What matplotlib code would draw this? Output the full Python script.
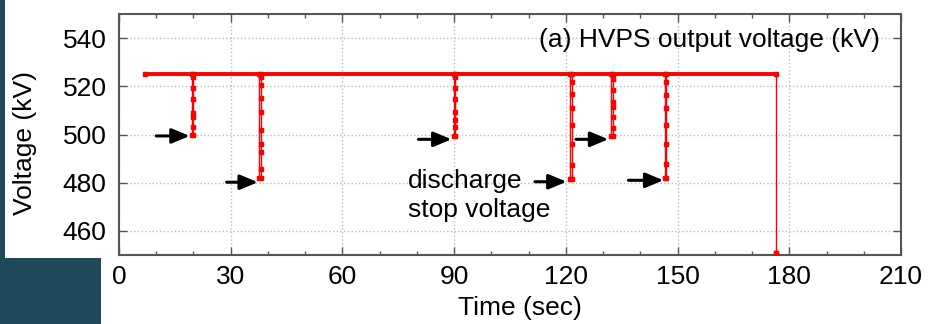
import matplotlib
matplotlib.use("Agg")
import matplotlib.pyplot as plt
from matplotlib.patches import Rectangle
from matplotlib.ticker import MultipleLocator

plt.rcParams['font.family'] = ['Liberation Sans', 'DejaVu Sans']

# charging level and the span of the run (sec, kV)
t_start = 7.0
t_end = 176.5
v_level = 525.0
v_end = 451.0

# discharge events: time of each dip and sampled voltages (bottom -> top)
dip_times = [19.6, 37.7, 90.0, 121.2, 132.2, 146.5]
dip_volts = [
    [499.8, 503.2, 507.2, 508.8, 514.8, 519.3, 523.8],
    [481.8, 485.6, 492.9, 496.1, 501.9, 509.5, 515.3, 520.6, 523.8],
    [499.5, 503.0, 506.0, 509.5, 514.6, 519.5, 523.8],
    [481.4, 487.3, 496.0, 503.9, 511.1, 516.7, 521.7],
    [499.5, 502.6, 507.4, 511.6, 513.6, 518.5, 523.1],
    [481.8, 487.6, 496.0, 503.9, 511.1, 516.4, 521.7],
]

# arrows marking the discharge stop voltage
arrow_tail = [10.0, 28.9, 80.4, 111.7, 122.7, 136.8]
arrow_head = [19.0, 37.3, 89.3, 120.2, 131.4, 146.2]
arrow_v = [499.4, 480.2, 498.0, 480.4, 498.0, 481.0]

FS = 19

fig = plt.figure(figsize=(9.32, 3.24), dpi=100, facecolor='#1d4a5a')
# white slide area (L-shaped)
fig.patches.append(Rectangle((5 / 932, (324 - 258) / 324), 1, 1, transform=fig.transFigure,
                             facecolor='white', edgecolor='none', zorder=-5))
fig.patches.append(Rectangle((101 / 932, 0), 1, 1, transform=fig.transFigure,
                             facecolor='white', edgecolor='none', zorder=-5))

ax = fig.add_axes([119 / 932, (324 - 255) / 324, 782 / 932, 241 / 324])
ax.set_zorder(2)
ax.set_facecolor('white')

# build the trace
tt = [t_start]
vv = [v_level]
for t0, vols in zip(dip_times, dip_volts):
    tt += [t0, t0]
    vv += [v_level, vols[0]]
    for v in vols:
        tt.append(t0 + 0.35)
        vv.append(v)
    tt.append(t0 + 0.35)
    vv.append(v_level)
tt += [t_end, t_end]
vv += [v_level, v_end]

ax.hlines(v_level, t_start, t_end, color='red', lw=2.8, zorder=3)
ax.plot(tt, vv, color='red', lw=1.0, marker='s', ms=2.4, zorder=3)
ax.plot([t_end], [v_end], color='red', marker='s', ms=3.5, zorder=3)

for x0, x1, y in zip(arrow_tail, arrow_head, arrow_v):
    ax.annotate('', xy=(x1, y), xytext=(x0, y),
                arrowprops=dict(arrowstyle='-|>,head_length=0.6,head_width=0.25',
                                color='black', lw=2.2,
                                mutation_scale=18, shrinkA=0, shrinkB=0))

ax.text(204.3, 539.3, '(a) HVPS output voltage (kV)', ha='right', va='center', fontsize=FS)
ax.text(77.6, 474.8, 'discharge\nstop voltage', ha='left', va='center', fontsize=FS,
        linespacing=1.25)

ax.set_xlim(0, 210)
ax.set_ylim(450, 550)
ax.xaxis.set_major_locator(MultipleLocator(30))
ax.xaxis.set_minor_locator(MultipleLocator(10))
ax.set_yticks([460, 480, 500, 520, 540])
ax.tick_params(which='both', direction='in', top=True, right=True, labelsize=FS,
               color='#555555')
ax.tick_params(which='major', length=6, width=1)
ax.tick_params(which='minor', length=3, width=1)
ax.tick_params(axis='x', pad=7)
ax.tick_params(axis='y', pad=9)
ax.grid(True, which='major', color='#bbbbbb', linestyle=':', lw=1)
for s in ax.spines.values():
    s.set_color('#555555')
    s.set_linewidth(1.5)

ax.set_xlabel('Time (sec)', fontsize=FS)
ax.set_ylabel('Voltage (kV)', fontsize=FS)
ax.xaxis.set_label_coords(0.513, -0.17)
ax.yaxis.set_label_coords(-0.105, 0.465)

fig.savefig('out.png', dpi=100, facecolor=fig.get_facecolor())
